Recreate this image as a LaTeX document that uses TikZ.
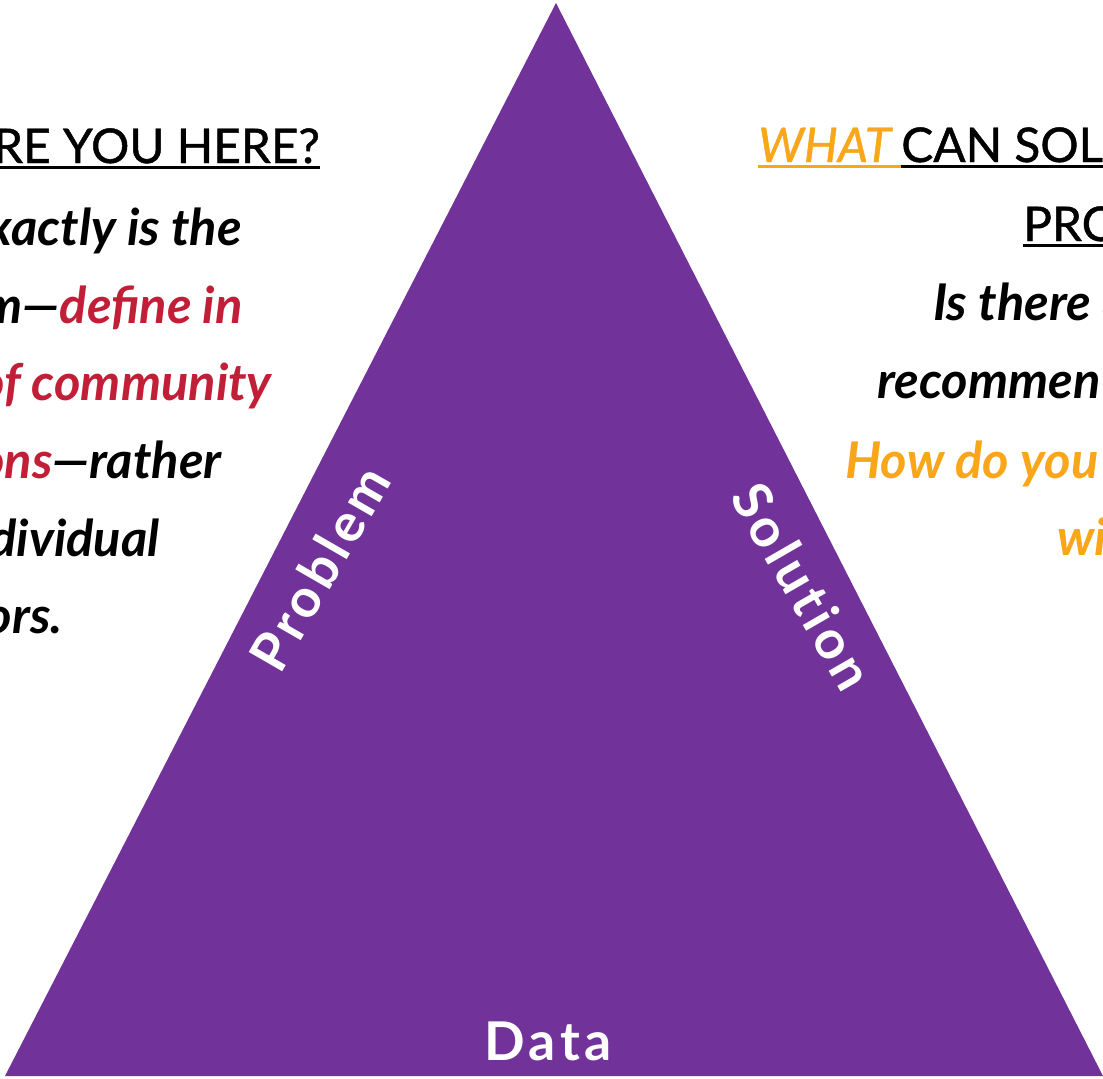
\documentclass[tikz,border=0pt]{standalone}
\usepackage{fontspec}
\setmainfont{Lato}
\definecolor{tripurple}{RGB}{113,50,154}
\definecolor{probred}{RGB}{193,30,55}
\definecolor{solorange}{RGB}{249,166,26}
\tikzset{
  head/.style={inner sep=0pt, font=\fontsize{34}{40}\selectfont\addfontfeatures{FakeBold=1}},
  body/.style={inner sep=0pt, font=\fontsize{36}{42}\selectfont\bfseries\itshape},
  side/.style={inner sep=0pt, text=white, font=\fontsize{38}{42}\selectfont\bfseries\addfontfeatures{LetterSpace=8,Ligatures=NoCommon}},
  uline/.style={line width=2.1pt}
}
\begin{document}
\begin{tikzpicture}[x=0.025cm,y=-0.025cm]

\useasboundingbox (0,0) rectangle (1103,1078);
\clip (0,0) rectangle (1103,1078);
\coordinate (redge) at (1103,0);

% Triangle
\coordinate (apex) at (556,3);
\coordinate (bl) at (5,1076);
\coordinate (br) at (1103,1076);
\fill[tripurple] (apex) -- (bl) -- (br) -- cycle;

% Side labels
\node[side, rotate=60] (prob) at (320,568) {Problem};
\node[side, rotate=-60] (sol) at (803,586) {Solution};
\node[side] (data) at (548,1041) {Data};

% Left text
\node[head, anchor=base east] (why) at (320,163) {RE YOU HERE?};
\draw[uline] ([yshift=-3.5pt]why.base west) -- ([yshift=-3.5pt]why.base east);
\node[body, anchor=base east] (l1) at (242,245) {xactly is the};
\node[body, anchor=base east] (l2) at (243,323) {m—\textcolor{probred}{define in}};
\node[body, anchor=base east, text=probred] (l3) at (272,400) {of community};
\node[body, anchor=base east] (l4) at (222,478) {\textcolor{probred}{ons}—rather};
\node[body, anchor=base east] (l5) at (160,556) {dividual};
\node[body, anchor=base east] (l6) at (63,633) {ors.};

% Right text
\node[head, anchor=base west, text=solorange, font=\fontsize{34}{40}\selectfont\itshape\addfontfeatures{FakeBold=1}] (what) at (758,162) {WHAT};
\node[head, anchor=base west] (cansol) at ([xshift=7pt]what.base east) {CAN SOL};
\draw[uline, solorange] ([yshift=-3.5pt]what.base west) -- ([yshift=-3.5pt]cansol.base west);
\draw[uline] ([yshift=-3.5pt]cansol.base west) -- ([yshift=-3.5pt]cansol.base west -| redge);
\node[head, anchor=base west] (pro) at (1023,241) {PRO};
\draw[uline] ([yshift=-3.5pt]pro.base west) -- ([yshift=-3.5pt]pro.base west -| redge);
\node[body, anchor=base west] (r1) at (933,320) {Is there a};
\node[body, anchor=base west] (r2) at (877,398) {recommen};
\node[body, anchor=base west, text=solorange] (r3) at (845,478) {How do you};
\node[body, anchor=base west, text=solorange] (r4) at (1057,555) {wi};

\end{tikzpicture}
\end{document}
